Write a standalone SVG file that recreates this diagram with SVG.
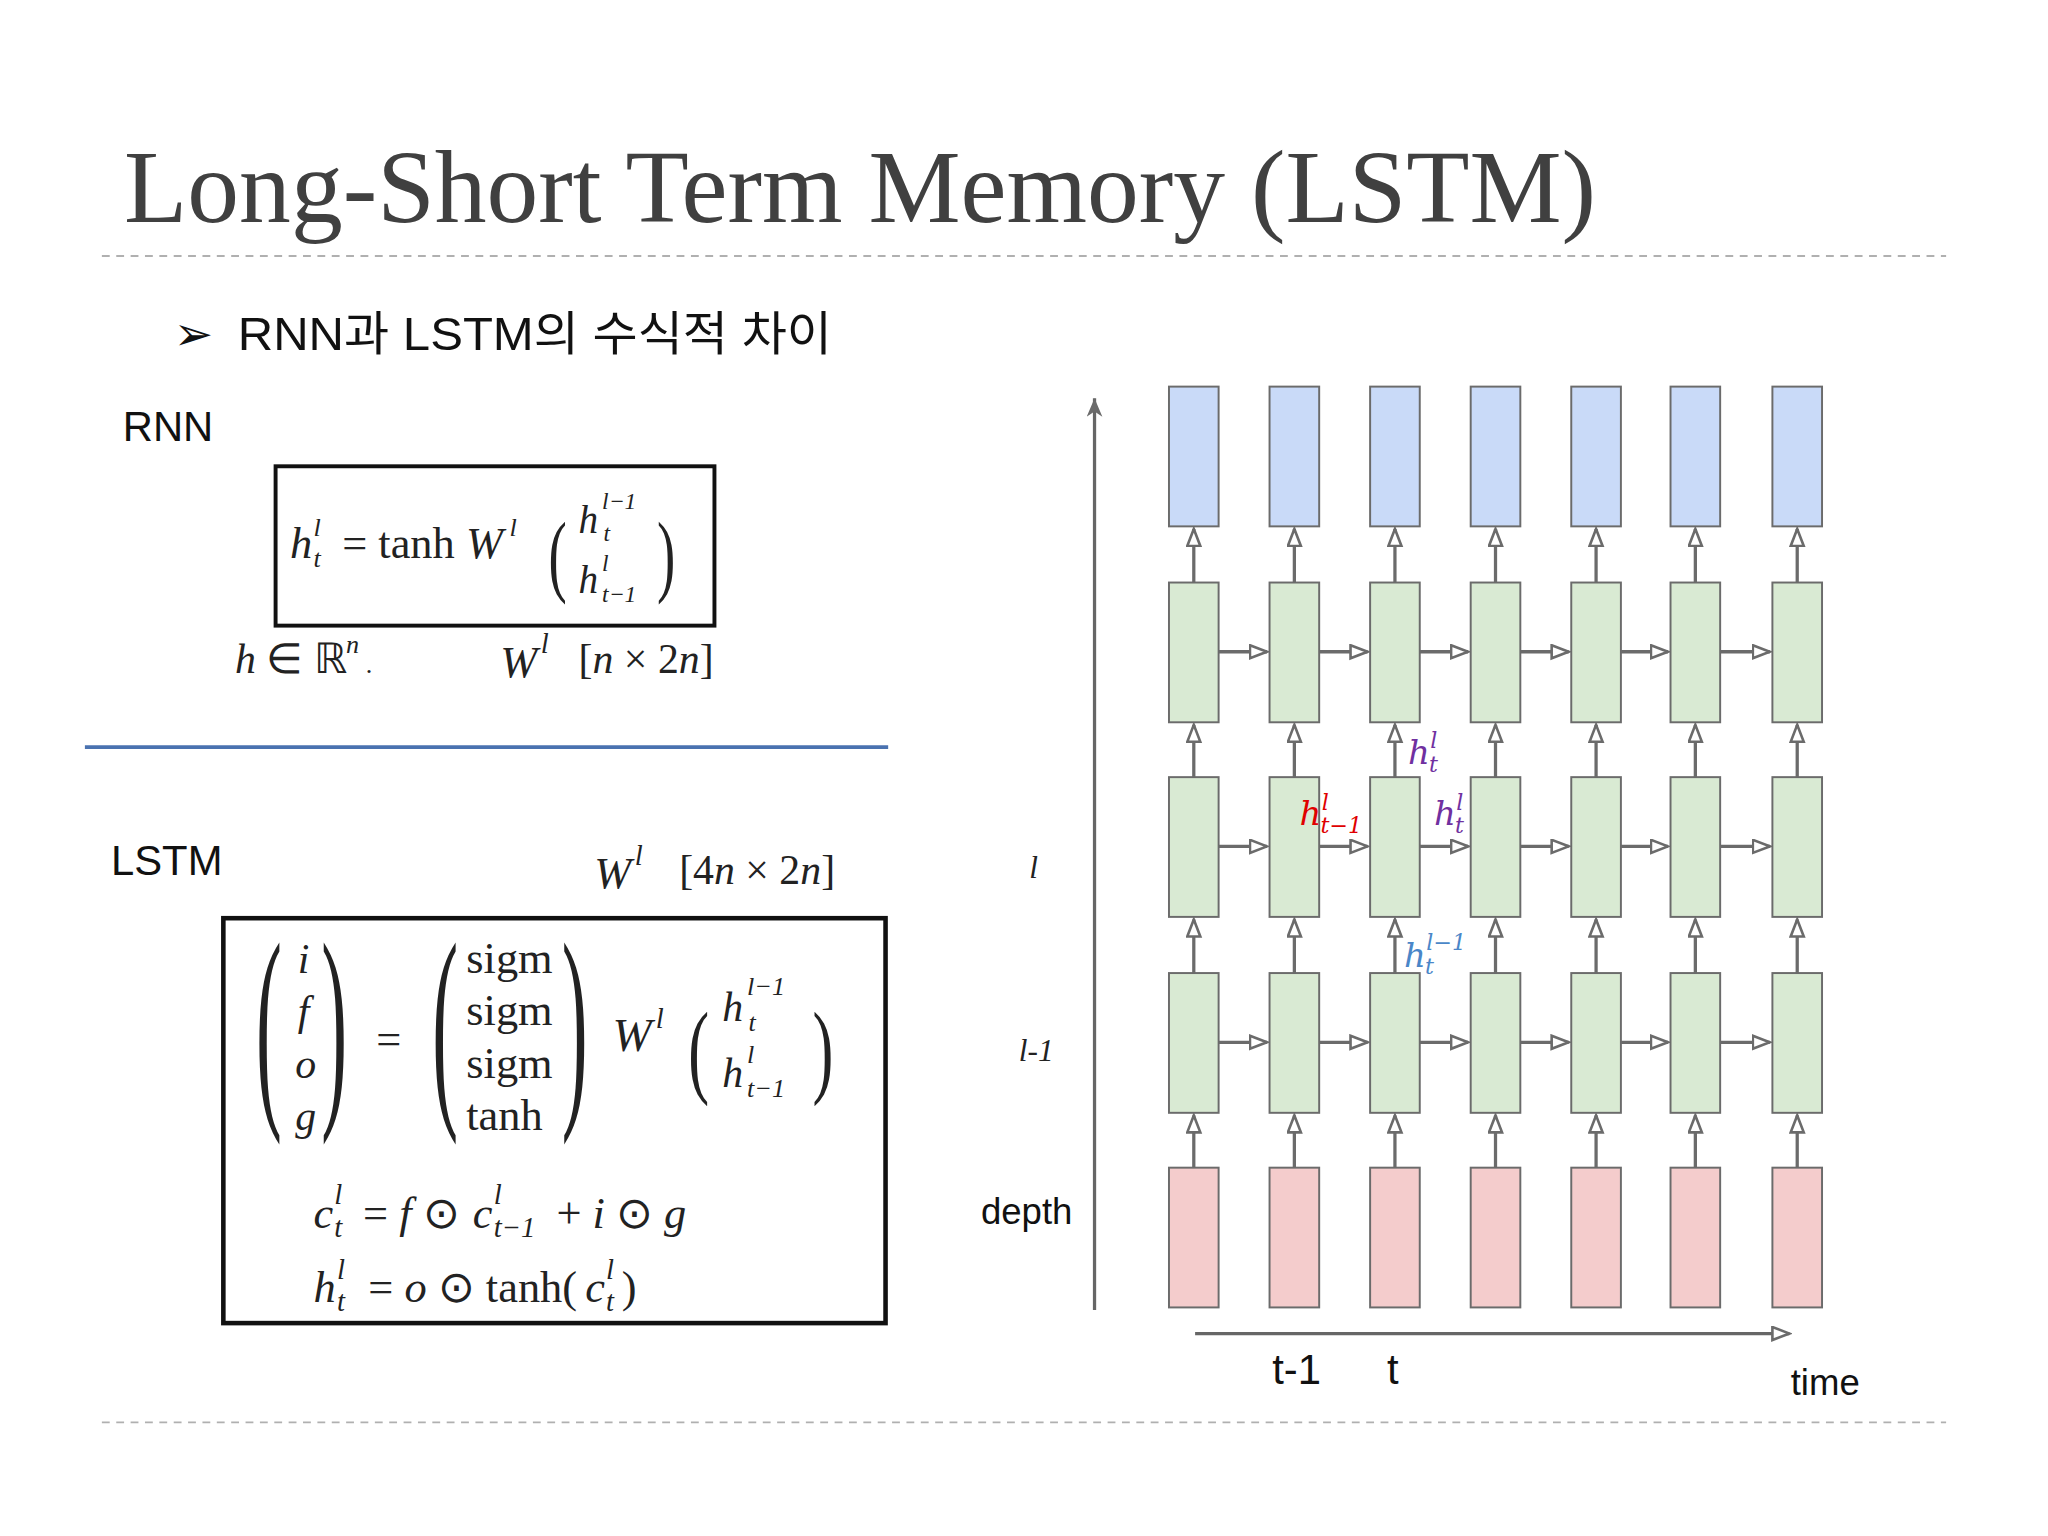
<svg xmlns="http://www.w3.org/2000/svg" width="2048" height="1536" viewBox="0 0 2048 1536">
<style>
.m{font-family:"Liberation Serif",serif;font-style:italic;fill:#222}
.r{font-family:"Liberation Serif",serif;fill:#222}
.s{font-family:"Liberation Sans",sans-serif;fill:#111}
.b{stroke:#6b6b6b;stroke-width:1.5}
.bl{fill:#c9daf8}.gr{fill:#d9ead3}.rd{fill:#f4cccc}
.c line{stroke:#6b6b6b;stroke-width:2.5;marker-end:url(#a)}
.dash{stroke:#b0b0b0;stroke-width:1.5;stroke-dasharray:6 5}
</style>
<defs>
<marker id="a" markerUnits="userSpaceOnUse" markerWidth="16" markerHeight="14" refX="14" refY="6" orient="auto"><path d="M1,1 L14,6 L1,11 z" fill="#fff" stroke="#6b6b6b" stroke-width="2"/></marker>
<marker id="f" markerUnits="userSpaceOnUse" markerWidth="16" markerHeight="14" refX="14" refY="6" orient="auto"><path d="M0,0 L14,6 L0,12 L4,6 z" fill="#6b6b6b"/></marker>
</defs>
<rect width="2048" height="1536" fill="#fff"/>
<g transform="scale(1.30612)">
<text x="95" y="170" font-family="Liberation Serif,serif" font-size="80" fill="#404040" textLength="1127" lengthAdjust="spacingAndGlyphs">Long-Short Term Memory (LSTM)</text>
<line class="dash" x1="78" y1="196" x2="1490" y2="196"/>
<line class="dash" x1="78" y1="1089" x2="1490" y2="1089"/>
<text x="133" y="268" font-family="DejaVu Sans,sans-serif" font-size="36" fill="#111">➢</text>
<text x="182" y="268" font-family="Liberation Sans,Noto Sans CJK KR,sans-serif" font-size="36" fill="#111" textLength="455" lengthAdjust="spacingAndGlyphs">RNN과 LSTM의 수식적 차이</text>
<text class="s" x="94" y="338" font-size="32">RNN</text>
<rect x="211" y="357" width="336" height="122" fill="none" stroke="#111" stroke-width="3"/>
<text class="m" x="222" y="427" font-size="34">h</text><text class="m" x="240" y="410" font-size="20">l</text><text class="m" x="240" y="434" font-size="20">t</text>
<text class="r" x="262" y="427" font-size="34">= tanh <tspan font-style="italic">W</tspan></text><text class="m" x="390" y="410" font-size="20">l</text>
<text class="r" x="420" y="448" font-size="70" transform="translate(420 0) scale(0.6 1) translate(-420 0)">(</text>
<text class="r" x="503" y="448" font-size="70" transform="translate(503 0) scale(0.6 1) translate(-503 0)">)</text>
<text class="m" x="443" y="408" font-size="30">h</text><text class="m" x="461" y="390" font-size="18">l−1</text><text class="m" x="462" y="414" font-size="18">t</text>
<text class="m" x="443" y="454" font-size="30">h</text><text class="m" x="461" y="437" font-size="18">l</text><text class="m" x="461" y="461" font-size="18">t−1</text>
<text class="m" x="180" y="515" font-size="32" fill="#444">h <tspan font-style="normal">∈ ℝ</tspan></text><text class="m" x="265" y="500" font-size="20">n</text><text class="r" x="280" y="515" font-size="20">.</text>
<text class="m" x="383" y="518" font-size="34">W</text><text class="m" x="414" y="500" font-size="22">l</text><text class="r" x="443" y="515" font-size="32">[<tspan font-style="italic">n</tspan> × 2<tspan font-style="italic">n</tspan>]</text>
<line x1="65" y1="572" x2="680" y2="572" stroke="#4a72b0" stroke-width="3"/>
<text class="s" x="85" y="670" font-size="32">LSTM</text>
<text class="m" x="455" y="680" font-size="34">W</text><text class="m" x="486" y="662" font-size="22">l</text><text class="r" x="520" y="677" font-size="32">[4<tspan font-style="italic">n</tspan> × 2<tspan font-style="italic">n</tspan>]</text>
<rect x="171" y="703" width="507" height="310" fill="none" stroke="#111" stroke-width="3.5"/>
<text class="r" x="196" y="840" font-size="170" transform="translate(196 0) scale(0.35 1) translate(-196 0)">(</text>
<text class="r" x="246" y="840" font-size="170" transform="translate(246 0) scale(0.35 1) translate(-246 0)">)</text>
<text class="m" x="228" y="745" font-size="32">i</text><text class="m" x="228" y="785" font-size="32">f</text><text class="m" x="226" y="825" font-size="32">o</text><text class="m" x="226" y="865" font-size="32">g</text>
<text class="r" x="288" y="807" font-size="34">=</text>
<text class="r" x="331" y="840" font-size="170" transform="translate(331 0) scale(0.35 1) translate(-331 0)">(</text>
<text class="r" x="430" y="840" font-size="170" transform="translate(430 0) scale(0.35 1) translate(-430 0)">)</text>
<text class="r" x="357" y="745" font-size="34">sigm</text><text class="r" x="357" y="785" font-size="34">sigm</text><text class="r" x="357" y="825" font-size="34">sigm</text><text class="r" x="357" y="865" font-size="34">tanh</text>
<text class="m" x="469" y="805" font-size="36">W</text><text class="m" x="502" y="787" font-size="22">l</text>
<text class="r" x="527" y="830" font-size="80" transform="translate(527 0) scale(0.6 1) translate(-527 0)">(</text>
<text class="r" x="622" y="830" font-size="80" transform="translate(622 0) scale(0.6 1) translate(-622 0)">)</text>
<text class="m" x="553" y="782" font-size="32">h</text><text class="m" x="572" y="762" font-size="20">l−1</text><text class="m" x="573" y="789" font-size="20">t</text>
<text class="m" x="553" y="832" font-size="32">h</text><text class="m" x="572" y="814" font-size="20">l</text><text class="m" x="572" y="840" font-size="20">t−1</text>
<text class="m" x="240" y="940" font-size="34">c</text><text class="m" x="256" y="922" font-size="22">l</text><text class="m" x="256" y="947" font-size="22">t</text>
<text class="m" x="278" y="940" font-size="34"><tspan font-style="normal">=</tspan> f <tspan font-style="normal">⊙</tspan></text>
<text class="m" x="362" y="940" font-size="34">c</text><text class="m" x="378" y="922" font-size="22">l</text><text class="m" x="378" y="947" font-size="22">t−1</text>
<text class="m" x="426" y="940" font-size="34"><tspan font-style="normal">+</tspan> i <tspan font-style="normal">⊙</tspan> g</text>
<text class="m" x="240" y="997" font-size="34">h</text><text class="m" x="258" y="979" font-size="22">l</text><text class="m" x="258" y="1004" font-size="22">t</text>
<text class="m" x="282" y="997" font-size="34"><tspan font-style="normal">=</tspan> o <tspan font-style="normal">⊙ tanh(</tspan></text>
<text class="m" x="448" y="997" font-size="34">c</text><text class="m" x="464" y="979" font-size="22">l</text><text class="m" x="464" y="1004" font-size="22">t</text><text class="r" x="476" y="997" font-size="34">)</text>

<g id="axes">
<line x1="838" y1="1003" x2="838" y2="305" stroke="#666" stroke-width="2.5" marker-end="url(#f)"/>
<line x1="915" y1="1021" x2="1370" y2="1021" stroke="#666" stroke-width="2.5" marker-end="url(#a)"/>
</g>
<text class="m" x="788" y="672" font-size="24">l</text>
<text class="m" x="780" y="812" font-size="24">l-1</text>
<text class="s" x="751" y="937" font-size="28">depth</text>
<text class="s" x="974" y="1060" font-size="32">t-1</text>
<text class="s" x="1062" y="1060" font-size="32">t</text>
<text class="s" x="1371" y="1068" font-size="28">time</text>

<g id="n0_0"><rect class="b bl" x="895" y="296" width="38" height="107"/></g>
<g id="n0_1"><rect class="b bl" x="972" y="296" width="38" height="107"/></g>
<g id="n0_2"><rect class="b bl" x="1049" y="296" width="38" height="107"/></g>
<g id="n0_3"><rect class="b bl" x="1126" y="296" width="38" height="107"/></g>
<g id="n0_4"><rect class="b bl" x="1203" y="296" width="38" height="107"/></g>
<g id="n0_5"><rect class="b bl" x="1279" y="296" width="38" height="107"/></g>
<g id="n0_6"><rect class="b bl" x="1357" y="296" width="38" height="107"/></g>
<g id="n1_0"><rect class="b gr" x="895" y="446" width="38" height="107"/></g>
<g id="n1_1"><rect class="b gr" x="972" y="446" width="38" height="107"/></g>
<g id="n1_2"><rect class="b gr" x="1049" y="446" width="38" height="107"/></g>
<g id="n1_3"><rect class="b gr" x="1126" y="446" width="38" height="107"/></g>
<g id="n1_4"><rect class="b gr" x="1203" y="446" width="38" height="107"/></g>
<g id="n1_5"><rect class="b gr" x="1279" y="446" width="38" height="107"/></g>
<g id="n1_6"><rect class="b gr" x="1357" y="446" width="38" height="107"/></g>
<g id="n2_0"><rect class="b gr" x="895" y="595" width="38" height="107"/></g>
<g id="n2_1"><rect class="b gr" x="972" y="595" width="38" height="107"/></g>
<g id="n2_2"><rect class="b gr" x="1049" y="595" width="38" height="107"/></g>
<g id="n2_3"><rect class="b gr" x="1126" y="595" width="38" height="107"/></g>
<g id="n2_4"><rect class="b gr" x="1203" y="595" width="38" height="107"/></g>
<g id="n2_5"><rect class="b gr" x="1279" y="595" width="38" height="107"/></g>
<g id="n2_6"><rect class="b gr" x="1357" y="595" width="38" height="107"/></g>
<g id="n3_0"><rect class="b gr" x="895" y="745" width="38" height="107"/></g>
<g id="n3_1"><rect class="b gr" x="972" y="745" width="38" height="107"/></g>
<g id="n3_2"><rect class="b gr" x="1049" y="745" width="38" height="107"/></g>
<g id="n3_3"><rect class="b gr" x="1126" y="745" width="38" height="107"/></g>
<g id="n3_4"><rect class="b gr" x="1203" y="745" width="38" height="107"/></g>
<g id="n3_5"><rect class="b gr" x="1279" y="745" width="38" height="107"/></g>
<g id="n3_6"><rect class="b gr" x="1357" y="745" width="38" height="107"/></g>
<g id="n4_0"><rect class="b rd" x="895" y="894" width="38" height="107"/></g>
<g id="n4_1"><rect class="b rd" x="972" y="894" width="38" height="107"/></g>
<g id="n4_2"><rect class="b rd" x="1049" y="894" width="38" height="107"/></g>
<g id="n4_3"><rect class="b rd" x="1126" y="894" width="38" height="107"/></g>
<g id="n4_4"><rect class="b rd" x="1203" y="894" width="38" height="107"/></g>
<g id="n4_5"><rect class="b rd" x="1279" y="894" width="38" height="107"/></g>
<g id="n4_6"><rect class="b rd" x="1357" y="894" width="38" height="107"/></g>

<g id="connectors" class="c">
<line x1="914" y1="446" x2="914" y2="405"/><line x1="991" y1="446" x2="991" y2="405"/><line x1="1068" y1="446" x2="1068" y2="405"/><line x1="1145" y1="446" x2="1145" y2="405"/><line x1="1222" y1="446" x2="1222" y2="405"/><line x1="1298" y1="446" x2="1298" y2="405"/><line x1="1376" y1="446" x2="1376" y2="405"/>
<line x1="914" y1="595" x2="914" y2="555"/><line x1="991" y1="595" x2="991" y2="555"/><line x1="1068" y1="595" x2="1068" y2="555"/><line x1="1145" y1="595" x2="1145" y2="555"/><line x1="1222" y1="595" x2="1222" y2="555"/><line x1="1298" y1="595" x2="1298" y2="555"/><line x1="1376" y1="595" x2="1376" y2="555"/>
<line x1="914" y1="745" x2="914" y2="704"/><line x1="991" y1="745" x2="991" y2="704"/><line x1="1068" y1="745" x2="1068" y2="704"/><line x1="1145" y1="745" x2="1145" y2="704"/><line x1="1222" y1="745" x2="1222" y2="704"/><line x1="1298" y1="745" x2="1298" y2="704"/><line x1="1376" y1="745" x2="1376" y2="704"/>
<line x1="914" y1="894" x2="914" y2="854"/><line x1="991" y1="894" x2="991" y2="854"/><line x1="1068" y1="894" x2="1068" y2="854"/><line x1="1145" y1="894" x2="1145" y2="854"/><line x1="1222" y1="894" x2="1222" y2="854"/><line x1="1298" y1="894" x2="1298" y2="854"/><line x1="1376" y1="894" x2="1376" y2="854"/>
<line x1="933" y1="499" x2="970" y2="499"/><line x1="1010" y1="499" x2="1047" y2="499"/><line x1="1087" y1="499" x2="1124" y2="499"/><line x1="1164" y1="499" x2="1201" y2="499"/><line x1="1241" y1="499" x2="1277" y2="499"/><line x1="1317" y1="499" x2="1355" y2="499"/>
<line x1="933" y1="648" x2="970" y2="648"/><line x1="1010" y1="648" x2="1047" y2="648"/><line x1="1087" y1="648" x2="1124" y2="648"/><line x1="1164" y1="648" x2="1201" y2="648"/><line x1="1241" y1="648" x2="1277" y2="648"/><line x1="1317" y1="648" x2="1355" y2="648"/>
<line x1="933" y1="798" x2="970" y2="798"/><line x1="1010" y1="798" x2="1047" y2="798"/><line x1="1087" y1="798" x2="1124" y2="798"/><line x1="1164" y1="798" x2="1201" y2="798"/><line x1="1241" y1="798" x2="1277" y2="798"/><line x1="1317" y1="798" x2="1355" y2="798"/>
</g>

<g font-family="DejaVu Serif,serif" font-style="italic">
<text x="1078" y="585" font-size="26" fill="#7030a0">h</text><text x="1095" y="573" font-size="17" fill="#7030a0">l</text><text x="1094" y="591" font-size="17" fill="#7030a0">t</text>
<text x="995" y="632" font-size="26" fill="#e00000">h</text><text x="1012" y="620" font-size="17" fill="#e00000">l</text><text x="1011" y="638" font-size="17" fill="#e00000">t−1</text>
<text x="1098" y="632" font-size="26" fill="#7030a0">h</text><text x="1115" y="620" font-size="17" fill="#7030a0">l</text><text x="1114" y="638" font-size="17" fill="#7030a0">t</text>
<text x="1075" y="740" font-size="26" fill="#4a86c8">h</text><text x="1092" y="727" font-size="17" fill="#4a86c8">l−1</text><text x="1091" y="746" font-size="17" fill="#4a86c8">t</text>
</g>
</g>
</svg>
